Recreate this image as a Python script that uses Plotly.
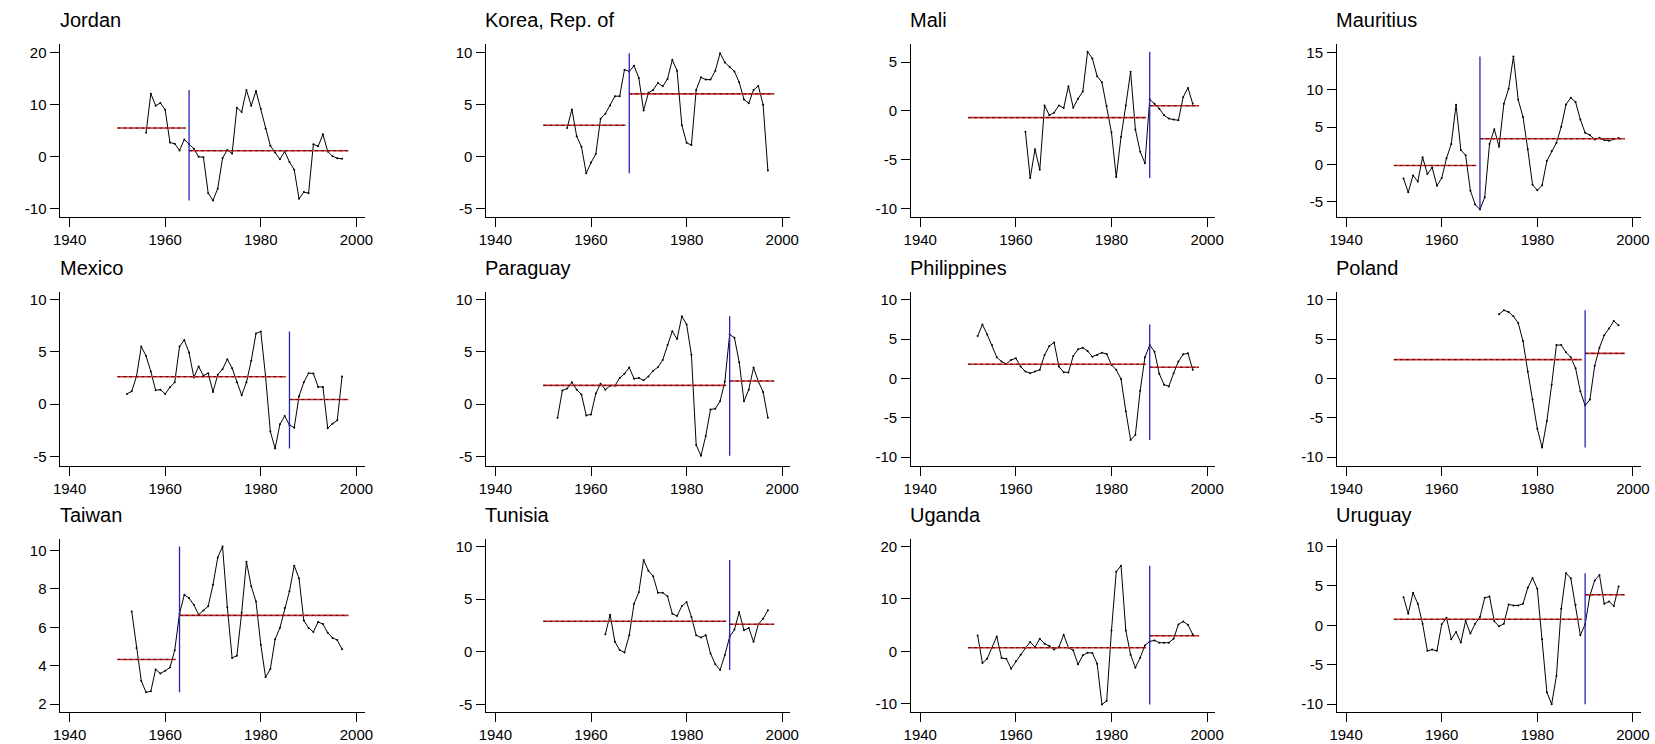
import math
import plotly.graph_objects as go

countries = ["Jordan", "Korea, Rep. of", "Mali", "Mauritius",
             "Mexico", "Paraguay", "Philippines", "Poland",
             "Taiwan", "Tunisia", "Uganda", "Uruguay"]
start_years = [1956, 1955, 1962, 1952, 1952, 1953, 1952, 1972, 1953, 1963, 1952, 1952]
break_years = [1965, 1968, 1988, 1968, 1986, 1989, 1988, 1990, 1963, 1989, 1988, 1990]
mean_before = [5.5, 3.02, -0.68, -0.13, 2.63, 1.80, 1.81, 2.39, 4.33, 2.89, 0.70, 0.76]
mean_after = [1.15, 6.03, 0.54, 3.45, 0.44, 2.22, 1.43, 3.19, 6.62, 2.61, 2.97, 3.87]

jordan = [4.6, 12.1, 9.8, 10.3, 9.0, 2.7, 2.5, 1.2, 3.3, 2.4, 1.5, 0.0, -0.1, -7.0, -8.4,
          -6.1, -0.3, 1.3, 0.6, 9.4, 8.6, 12.8, 9.8, 12.6, 9.2, 5.4, 2.1, 0.8, -0.5, 1.0,
          -1.0, -2.5, -8.1, -6.8, -7.0, 2.4, 2.0, 4.3, 1.0, 0.1, -0.3, -0.4]
korea = [2.76, 4.54, 1.97, 0.95, -1.59, -0.57, 0.25, 3.65, 4.13, 4.92, 5.81, 5.81, 8.35,
         8.19, 8.73, 7.56, 4.44, 6.13, 6.41, 7.08, 6.76, 7.46, 9.30, 8.25, 3.02, 1.33, 1.11,
         6.41, 7.62, 7.40, 7.40, 8.25, 9.94, 9.05, 8.63, 8.19, 7.14, 5.49, 5.14, 6.41, 6.79,
         4.98, -1.33]
mali = [-2.13, -6.86, -3.92, -6.01, 0.57, -0.44, -0.17, 0.57, 0.30, 2.53, 0.34, 1.25, 1.99,
        6.05, 5.37, 3.55, 2.94, 0.51, -2.20, -6.76, -2.64, 0.57, 4.02, -1.89, -4.16, -5.34,
        1.18, 0.74, 0.24, -0.44, -0.78, -0.88, -0.95, 1.42, 2.36, 0.74]
mauritius = [-1.86, -3.72, -1.46, -2.26, 0.97, -1.28, -0.40, -2.83, -1.81, 0.84, 2.74, 8.01,
             1.95, 1.24, -3.50, -5.35, -6.02, -4.38, 2.74, 4.73, 2.39, 8.14, 10.13, 14.47,
             8.67, 6.37, 2.04, -2.70, -3.45, -2.79, 0.49, 1.81, 2.92, 5.04, 8.05, 8.94, 8.36,
             6.02, 4.25, 3.94, 3.36, 3.58, 3.27, 3.19, 3.41, 3.54]
mexico = [0.98, 1.23, 2.66, 5.51, 4.62, 3.13, 1.33, 1.39, 0.98, 1.61, 2.09, 5.51, 6.14, 4.94,
          2.56, 3.61, 2.72, 2.97, 1.17, 2.82, 3.35, 4.30, 3.45, 2.09, 0.85, 2.09, 4.15, 6.77,
          6.96, 2.66, -2.63, -4.24, -1.93, -1.14, -1.99, -2.25, 0.76, 2.09, 2.97, 2.94, 1.65,
          1.65, -2.31, -1.87, -1.55, 2.66]
paraguay = [-1.30, 1.30, 1.49, 2.09, 1.39, 0.92, -1.08, -0.98, 1.01, 1.96, 1.39, 1.77, 1.77,
            2.50, 2.91, 3.51, 2.44, 2.50, 2.28, 2.66, 3.20, 3.54, 4.24, 5.66, 6.99, 6.23, 8.42,
            7.63, 4.72, -3.92, -4.94, -3.04, -0.51, -0.44, 0.28, 2.18, 6.68, 6.36, 4.02, 0.28,
            1.39, 3.51, 2.18, 1.17, -1.30]
philippines = [5.38, 6.85, 5.59, 4.24, 2.69, 2.14, 1.85, 2.35, 2.56, 1.51, 0.88, 0.67, 0.88,
               1.09, 2.98, 4.12, 4.58, 1.51, 0.80, 0.76, 2.86, 3.70, 3.91, 3.49, 2.77, 2.98,
               3.28, 3.11, 1.72, 1.09, -0.08, -4.16, -7.82, -7.18, -1.55, 2.69, 4.24, 3.40,
               0.59, -0.80, -1.01, 0.67, 2.14, 3.07, 3.19, 1.09]
poland = [8.15, 8.66, 8.45, 7.90, 7.06, 4.75, 0.88, -2.69, -6.39, -8.78, -5.42, -0.80, 4.24,
          4.24, 3.32, 2.69, 1.30, -1.64, -3.45, -2.69, 1.60, 3.91, 5.50, 6.34, 7.31, 6.76]
taiwan = [6.83, 4.93, 3.21, 2.62, 2.67, 3.81, 3.60, 3.74, 3.91, 4.81, 6.71, 7.69, 7.52, 7.17,
          6.66, 6.88, 7.10, 8.21, 9.64, 10.21, 7.05, 4.41, 4.52, 6.76, 9.41, 8.14, 7.34, 5.10,
          3.40, 3.83, 5.38, 5.97, 7.00, 7.88, 9.21, 8.55, 6.36, 5.97, 5.76, 6.28, 6.17, 5.72,
          5.45, 5.34, 4.86]
tunisia = [1.67, 3.52, 0.94, 0.16, -0.06, 1.57, 4.56, 5.66, 8.71, 7.70, 7.17, 5.60, 5.60, 5.28,
           3.62, 3.40, 4.34, 4.72, 3.30, 1.57, 1.35, 1.57, -0.16, -1.19, -1.73, -0.31, 1.42,
           2.11, 3.77, 2.04, 2.26, 0.94, 2.61, 3.14, 3.93]
uganda = [3.04, -2.22, -1.39, 0.70, 2.85, -1.27, -1.39, -3.29, -1.90, -0.63, 0.63, 1.77, 0.82,
          2.41, 1.46, 1.01, 0.38, 0.82, 3.16, 0.70, 0.19, -2.47, -0.76, -0.25, -0.32, -2.34,
          -10.13, -9.43, 3.99, 15.19, 16.33, 3.99, -0.63, -3.10, -1.20, 1.14, 1.90, 2.09,
          1.65, 1.65, 1.65, 2.41, 5.13, 5.70, 5.06, 3.23]
uruguay = [3.57, 1.47, 4.12, 2.73, 0.21, -3.24, -3.07, -3.24, 0.13, 0.97, -1.76, -0.84, -2.18,
           0.55, -1.05, 0.21, 1.05, 3.49, 3.66, 0.50, -0.13, 0.21, 2.65, 2.52, 2.52, 2.73,
           4.75, 6.01, 4.62, -1.76, -8.49, -10.0, -6.39, 2.10, 6.60, 5.97, 2.61, -1.26, 0.13,
           3.78, 5.67, 6.39, 2.73, 3.03, 2.44, 4.92]

series = [jordan, korea, mali, mauritius, mexico, paraguay,
          philippines, poland, taiwan, tunisia, uganda, uruguay]

x_ticks = [1940, 1960, 1980, 2000]
y_ranges = [(-11.66, 21.66), (-5.83, 10.83), (-10.88, 6.86), (-7.08, 16.15),
            (-5.9, 10.72), (-5.9, 10.72), (-11.1, 10.96), (-11.1, 10.96),
            (1.59, 10.62), (-5.73, 10.75), (-11.57, 21.5), (-11.0, 11.0)]
y_dticks = [10, 5, 5, 5, 5, 5, 5, 5, 2, 5, 10, 5]

W, H = 1655, 744
col_left = [53, 483, 912, 1342]
col_w = 307
row_top = [43, 292, 539]
row_h = 174
MEAN_START = 1950
MEAN_END = 1998.3

FONT = "Liberation Sans, Arial, Helvetica, sans-serif"

fig = go.Figure()
annotations = []
layout_axes = {}

for i, name in enumerate(countries):
    r, c = divmod(i, 4)
    idx = i + 1
    xa = "x" if idx == 1 else f"x{idx}"
    ya = "y" if idx == 1 else f"y{idx}"
    vals = series[i]
    years = [start_years[i] + k for k in range(len(vals))]
    brk = break_years[i]

    fig.add_trace(go.Scatter(x=years, y=vals, mode="lines+markers",
                             line=dict(color="black", width=1),
                             marker=dict(color="black", size=2),
                             xaxis=xa, yaxis=ya, showlegend=False, hoverinfo="x+y"))
    for (x0, x1, m) in [(MEAN_START, brk - 0.75, mean_before[i]), (brk, MEAN_END, mean_after[i])]:
        fig.add_trace(go.Scatter(x=[x0, x1], y=[m, m], mode="lines",
                                 line=dict(color="rgb(200,50,50)", width=1.6),
                                 xaxis=xa, yaxis=ya, showlegend=False))
        fig.add_trace(go.Scatter(x=[x0, x1], y=[m, m], mode="lines",
                                 line=dict(color="rgb(100,0,0)", width=1, dash="dot"),
                                 xaxis=xa, yaxis=ya, showlegend=False))
    fig.add_trace(go.Scatter(x=[brk, brk], y=[min(vals), max(vals)], mode="lines",
                             line=dict(color="rgb(35,35,190)", width=1.3),
                             xaxis=xa, yaxis=ya, showlegend=False))

    lo, hi = y_ranges[i]
    d = y_dticks[i]
    yt = [d * k for k in range(math.ceil(lo / d), math.floor(hi / d) + 1)]

    x0p = col_left[c] / W
    x1p = (col_left[c] + col_w) / W
    y1p = 1 - row_top[r] / H
    y0p = 1 - (row_top[r] + row_h) / H
    xkey = "xaxis" if idx == 1 else f"xaxis{idx}"
    ykey = "yaxis" if idx == 1 else f"yaxis{idx}"
    layout_axes[xkey] = dict(domain=[x0p, x1p], anchor=ya, range=[1938.1, 2001.7],
                             tickmode="array", tickvals=x_ticks, ticktext=[str(t) for t in x_ticks],
                             showgrid=False, zeroline=False, showline=True, linecolor="black",
                             linewidth=1, ticks="outside", ticklen=9, tickcolor="black",
                             tickfont=dict(family=FONT, size=15, color="black"))
    layout_axes[ykey] = dict(domain=[y0p, y1p], anchor=xa, range=[lo, hi],
                             tickmode="array", tickvals=yt, ticktext=[str(v) for v in yt],
                             showgrid=False, zeroline=False, showline=True, linecolor="black",
                             linewidth=1, ticks="outside", ticklen=9, tickcolor="black",
                             ticklabelstandoff=1,
                             tickfont=dict(family=FONT, size=15, color="black"))
    annotations.append(dict(text=name, xref="paper", yref="paper",
                            x=(col_left[c] - 3) / W, y=1 - (row_top[r] - 24) / H,
                            xanchor="left", yanchor="middle", showarrow=False,
                            font=dict(family=FONT, size=20, color="black")))

fig.update_layout(width=W, height=H, margin=dict(l=0, r=0, t=0, b=0),
                  paper_bgcolor="white", plot_bgcolor="white",
                  annotations=annotations, **layout_axes)

fig.write_html("out.html", config={"displayModeBar": False},
               post_script="document.body.style.margin='0px';document.body.style.overflow='hidden';")
